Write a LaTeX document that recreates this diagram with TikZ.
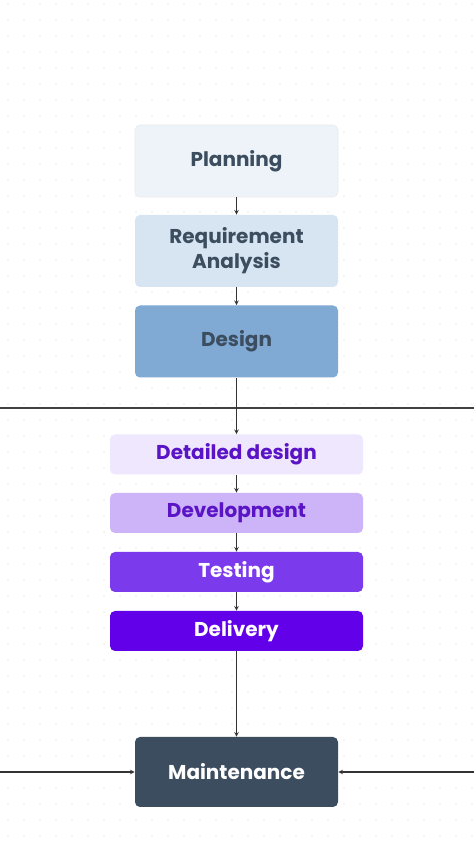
\documentclass[tikz,border=0pt]{standalone}
\usepackage{fontspec}
\setmainfont{Poppins}
\usetikzlibrary{positioning}
\definecolor{slate}{HTML}{3B4D5E}
\definecolor{plan}{HTML}{EEF3F9}
\definecolor{req}{HTML}{D7E4F1}
\definecolor{des}{HTML}{80A9D4}
\definecolor{dd}{HTML}{EFE7FD}
\definecolor{dev}{HTML}{CDB3F7}
\definecolor{tst}{HTML}{7C3AED}
\definecolor{dlv}{HTML}{6200EA}
\definecolor{ptext}{HTML}{5A14C6}
\begin{document}
\begin{tikzpicture}[x=1pt,y=1pt,semithick,>=stealth,
  box/.style={rounded corners=5pt,minimum width=203pt,minimum height=72pt,align=center,
    font=\bfseries\fontsize{20}{25}\selectfont,text=slate},
  bar/.style={box,minimum width=253pt,minimum height=40pt,text=ptext},
  link/.style={->,draw=black!80,line width=1.1pt}]
\fill[white](0,0)rectangle(474,842);\useasboundingbox(0,0)rectangle(474,842);
\foreach \i in {8,24,...,472}\foreach \j in {6,22,...,840}\fill[black!18](\i,\j)circle(0.6);
\node[box,fill=plan,draw=black!8](plan)at(236.5,681){Planning};
\node[box,fill=req](req)at(236.5,591){Requirement\\Analysis};
\node[box,fill=des](des)at(236.5,500.5){Design};
\draw[black!75,line width=1.1pt](0,434)--(474,434);
\node[bar,fill=dd](det)at(236.5,387.5){Detailed design};
\node[bar,fill=dev](dev)at(236.5,329){Development};
\node[bar,fill=tst,text=white](tst)at(236.5,270){Testing};
\node[bar,fill=dlv,text=white](dlv)at(236.5,211){Delivery};
\node[box,fill=slate,text=white,minimum height=70pt](mnt)at(236.5,70){Maintenance};
\coordinate(wl)at(0,70);\coordinate(wr)at(474,70);
\draw[link](plan)--(req);\draw[link](req)--(des);\draw[link](des)--(det);
\draw[link](det)--(dev);\draw[link](dev)--(tst);\draw[link](tst)--(dlv);
\draw[link](dlv)--(mnt);\draw[link](wl)--(mnt);\draw[link](wr)--(mnt);
\end{tikzpicture}
\end{document}
